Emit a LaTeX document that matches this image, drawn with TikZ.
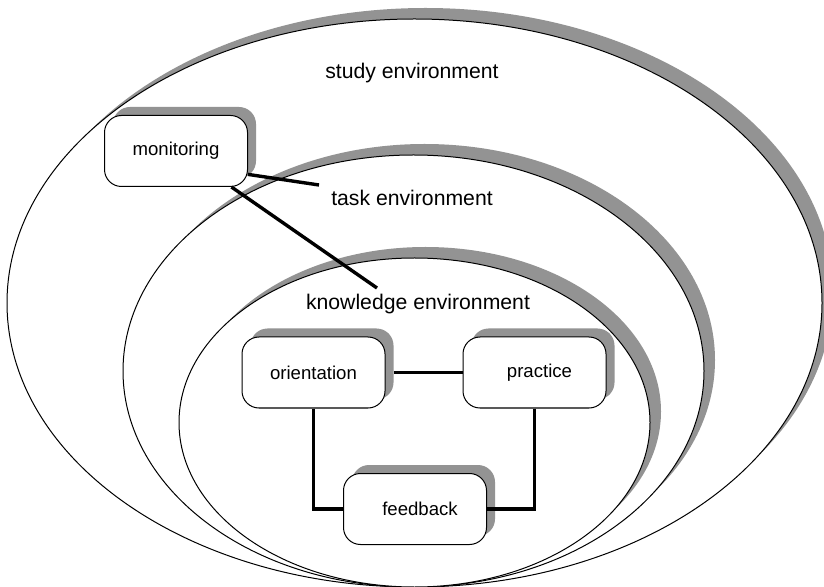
\documentclass[tikz,border=0pt]{standalone}
\usepackage{fontspec}
\setmainfont{Liberation Sans}
\usetikzlibrary{shadows}
\definecolor{shadowgray}{RGB}{147,147,147}

\tikzset{
	envline/.style={line width=0.5pt,fill=white},
	envshadow/.style={fill=shadowgray},
	envlabel/.style={font=\fontsize{10.6}{12}\selectfont},
	box/.style={draw,line width=0.5pt,fill=white,rounded corners=8.5pt,
		minimum width=71.5pt,minimum height=35.5pt,
		font=\fontsize{9.3}{11}\selectfont,
		drop shadow={shadow xshift=4.25pt,shadow yshift=4.25pt,fill=shadowgray,opacity=1}},
	link/.style={line width=1.7pt}
}

\begin{document}
\begin{tikzpicture}[x=0.5pt,y=-0.5pt]
		\useasboundingbox (0,0) rectangle (824,587);
		
		% centres of the environments
		\coordinate (S) at (414.5,303);
		\coordinate (T) at (413.5,371);
		\coordinate (K) at (414.5,422.5);
		
		% study environment
		\fill[envshadow] ([xshift=5.5pt,yshift=5.5pt]S) ellipse [x radius=407.5, y radius=284];
		\draw[envline] (S) ellipse [x radius=407.5, y radius=284];
		
		% task environment
		\fill[envshadow] ([xshift=5.5pt,yshift=5.5pt]T) ellipse [x radius=290.5, y radius=216];
		\draw[envline] (T) ellipse [x radius=290.5, y radius=216];
		
		% knowledge environment
		\fill[envshadow] ([xshift=5.5pt,yshift=5.5pt]K) ellipse [x radius=235.5, y radius=164.5];
		\draw[envline] (K) ellipse [x radius=235.5, y radius=164.5];
		
		\node[envlabel] (study) at (412,73) {study environment};
		\node[envlabel] (task) at (412,198) {task environment};
		\node[envlabel] (knowledge) at (418,304) {knowledge environment};
		
		\node[box] (monitoring) at (176,151) {monitoring};
		\node[box] (orientation) at (313.5,372.5) {orientation};
		\node[box] (practice) at (534.5,372.5) {\hspace{5pt}practice};
		\node[box] (feedback) at (415,509) {\hspace{5pt}feedback};
		
		% links of monitoring
		\coordinate (taskend) at (319,185);
		\coordinate (knowend) at (377,288);
		\draw[link] (monitoring.-18)--(taskend);
		\draw[link] (monitoring.-33)--(knowend);
		
		% the learning cycle
		\draw[link] ([xshift=4pt]orientation.east)--(practice.west);
		\draw[link] (orientation.south) |- (feedback.west);
		\draw[link] (practice.south) |- (feedback.east);
\end{tikzpicture}
\end{document}
